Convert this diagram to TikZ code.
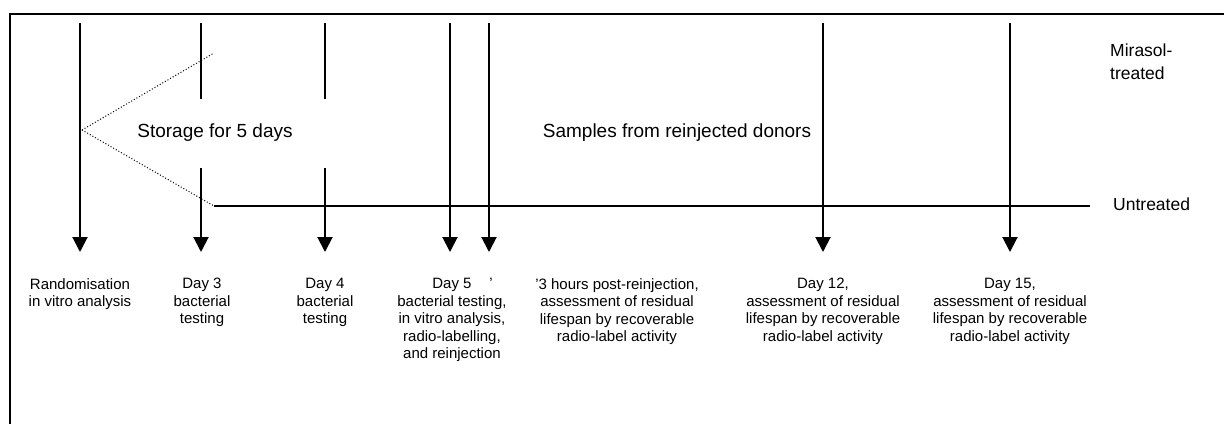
\documentclass[tikz,border=0pt]{standalone}
\usepackage{fontspec}
\setmainfont{Liberation Sans}
\usetikzlibrary{arrows.meta}
\begin{document}
\begin{tikzpicture}[x=1pt,y=-1pt,
  timearrow/.style={line width=2pt,-{Triangle[width=15pt,length=15pt]}},
  seg/.style={line width=2pt},
  frameline/.style={line width=2.5pt},
  lbl/.style={font=\fontsize{15}{17.5}\selectfont, align=center, anchor=north, inner sep=0pt},
  big/.style={font=\fontsize{19}{22}\selectfont, inner sep=0pt},
  side/.style={font=\fontsize{17.5}{23}\selectfont, align=left, anchor=west, inner sep=0pt},
  dotline/.style={line width=1pt, dotted},
  groupline/.style={line width=1.5pt}]
\useasboundingbox (0,0) rectangle (1224,424);
% frame
\coordinate (fl) at (10,424);
\coordinate (ftl) at (10,14);
\coordinate (ftr) at (1224,14);
\draw[frameline] (fl) -- (ftl) -- (ftr);
% arrow tops and tips
\foreach \n/\x in {r/80,a/201,b/325,c/450,e/489,f/823,g/1010}{
  \coordinate (\n top) at (\x,23);
  \coordinate (\n tip) at (\x,252);
}
\coordinate (a mid1) at (201,99);
\coordinate (a mid2) at (201,168);
\coordinate (b mid1) at (325,99);
\coordinate (b mid2) at (325,168);
\draw[timearrow] (rtop) -- (rtip);
\draw[seg] (atop) -- (a mid1);
\draw[timearrow] (a mid2) -- (atip);
\draw[seg] (btop) -- (b mid1);
\draw[timearrow] (b mid2) -- (btip);
\draw[timearrow] (ctop) -- (ctip);
\draw[timearrow] (etop) -- (etip);
\draw[timearrow] (ftop) -- (ftip);
\draw[timearrow] (gtop) -- (gtip);
% storage branches
\coordinate (v) at (82,130);
\coordinate (up) at (214,53);
\coordinate (dn) at (214,206);
\coordinate (hend) at (1090,206);
\draw[dotline] (v) -- (up);
\draw[dotline] (v) -- (dn);
\draw[groupline] (dn) -- (hend);
% middle texts
\node[big] (storage) at (215,133) {Storage for 5 days};
\node[big] (samples) at (677,133) {Samples from reinjected donors};
% side labels
\node[side] (mir) at (1110,62) {Mirasol-\\treated};
\node[side] (unt) at (1113,204) {Untreated};
% bottom labels
\node[lbl] (l1) at (80,278) {Randomisation\\in vitro analysis};
\node[lbl] (l2) at (202,278) {Day 3\\bacterial\\testing};
\node[lbl] (l3) at (325,278) {Day 4\\bacterial\\testing};
\node[lbl] (l4) at (452,278) {Day 5\\bacterial testing,\\in vitro analysis,\\radio-labelling,\\and reinjection};
\node[lbl] (l4b) at (491,278) {'};
\node[lbl] (l5) at (617,278) {'3 hours post-reinjection,\\assessment of residual\\lifespan by recoverable\\radio-label activity};
\node[lbl] (l6) at (823,278) {Day 12,\\assessment of residual\\lifespan by recoverable\\radio-label activity};
\node[lbl] (l7) at (1010,278) {Day 15,\\assessment of residual\\lifespan by recoverable\\radio-label activity};
\end{tikzpicture}
\end{document}
